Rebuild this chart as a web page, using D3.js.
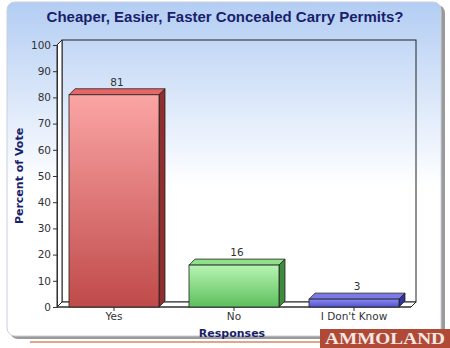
<!DOCTYPE html>
<html><head><meta charset="utf-8">
<script src="https://cdn.jsdelivr.net/npm/d3@7"></script>
<style>body{margin:0;background:#fff}svg{display:block}</style>
</head><body>
<svg id="c" width="450" height="348"></svg>
<script>
const title = "Cheaper, Easier, Faster Concealed Carry Permits?";
const categories = ["Yes", "No", "I Don't Know"];
const values = [81, 16, 3];
const yTicks = [0,10,20,30,40,50,60,70,80,90,100];
const xTitle = "Responses";
const yTitle = "Percent of Vote";

const colors = [
  {light:"#fba5a5", dark:"#c04a4a", top:"#e96666", side:"#8e2e2e"},
  {light:"#b8f4b4", dark:"#5cbf5c", top:"#8ee08a", side:"#3f8a3f"},
  {light:"#8a8af0", dark:"#5252d0", top:"#7a7ae8", side:"#33339a"}
];

const svg = d3.select("#c");
const defs = svg.append("defs");
const bg = defs.append("linearGradient").attr("id","bg").attr("x1",0).attr("y1",0).attr("x2",0).attr("y2",1);
bg.append("stop").attr("offset","0%").attr("stop-color","#b3cdf3");
bg.append("stop").attr("offset","55%").attr("stop-color","#ffffff");
bg.append("stop").attr("offset","100%").attr("stop-color","#ffffff");
colors.forEach((c,i)=>{
  const g = defs.append("linearGradient").attr("id","g"+i).attr("x1",0).attr("y1",0).attr("x2",0).attr("y2",1);
  g.append("stop").attr("offset","0%").attr("stop-color",c.light);
  g.append("stop").attr("offset","100%").attr("stop-color",c.dark);
});

// panel shadow + panel
svg.append("rect").attr("x",10).attr("y",5).attr("width",435).attr("height",334).attr("rx",8).attr("fill","#9a9a9a");
svg.append("rect").attr("x",7).attr("y",2).attr("width",434).attr("height",334).attr("rx",8)
  .attr("fill","url(#bg)").attr("stroke","#c8d0dc").attr("stroke-width",1);

svg.append("text").attr("x",225).attr("y",22).attr("text-anchor","middle")
  .attr("font-family","'Liberation Sans', Arial, sans-serif").attr("font-weight","bold").attr("font-size",15)
  .attr("fill","#1a1f6b").text(title);

const x0 = 57, x1 = 411, yTop = 45, yBot = 307, dx = 5, dy = 5;
const x = d3.scaleBand().domain(categories).range([x0, x1]).paddingInner(0.25).paddingOuter(0.1);
const y = d3.scaleLinear().domain([0,100]).range([yBot, yTop]);

// back wall
const wall = svg.append("g");
wall.append("rect").attr("x",x0+dx).attr("y",yTop-dy).attr("width",x1-x0).attr("height",yBot-yTop)
  .attr("fill","none").attr("stroke","#222").attr("stroke-width",1);
wall.append("path").attr("d",`M${x0},${yTop}L${x0+dx},${yTop-dy}L${x0+dx},${yBot-dy}L${x0},${yBot}Z`)
  .attr("fill","#fff").attr("stroke","#222").attr("stroke-width",1);
wall.append("path").attr("d",`M${x0},${yBot}L${x0+dx},${yBot-dy}L${x1+dx},${yBot-dy}L${x1},${yBot}Z`)
  .attr("fill","#fff").attr("stroke","#222").attr("stroke-width",1);

// y axis
const yAxis = d3.axisLeft(y).tickValues(yTicks).tickSize(4).tickPadding(2);
const ya = svg.append("g").attr("transform",`translate(${x0},0)`).call(yAxis);
ya.select(".domain").attr("stroke","#333");
ya.selectAll(".tick line").attr("stroke","#333");
ya.selectAll("text").attr("font-family","'DejaVu Sans', sans-serif").attr("font-size",10.5).attr("fill","#333");

// x axis
const xAxis = d3.axisBottom(x).tickSize(4).tickPadding(2);
const xa = svg.append("g").attr("transform",`translate(0,${yBot})`).call(xAxis);
xa.select(".domain").attr("stroke","#333").attr("d",`M${x0},0H${x1}`);
xa.selectAll(".tick line").attr("stroke","#333");
xa.selectAll("text").attr("font-family","'DejaVu Sans', sans-serif").attr("font-size",10.5).attr("fill","#333");

// bars
const bd = 6;
const bars = svg.append("g");
categories.forEach((cat,i)=>{
  const bx = x(cat), bw = x.bandwidth(), by = y(values[i]), c = colors[i];
  bars.append("path").attr("d",`M${bx},${by}L${bx+bd},${by-bd}L${bx+bw+bd},${by-bd}L${bx+bw},${by}Z`)
    .attr("fill",c.top).attr("stroke","#222").attr("stroke-width",0.8);
  bars.append("path").attr("d",`M${bx+bw},${by}L${bx+bw+bd},${by-bd}L${bx+bw+bd},${yBot-bd}L${bx+bw},${yBot}Z`)
    .attr("fill",c.side).attr("stroke","#222").attr("stroke-width",0.8);
  bars.append("rect").attr("x",bx).attr("y",by).attr("width",bw).attr("height",yBot-by)
    .attr("fill",`url(#g${i})`).attr("stroke","#222").attr("stroke-width",0.8);
  bars.append("text").attr("x",bx+bw/2+bd/2).attr("y",by-bd-3).attr("text-anchor","middle")
    .attr("font-family","'DejaVu Sans', sans-serif").attr("font-size",10.5).attr("fill","#333").text(values[i]);
});

// axis titles
svg.append("text").attr("x",232).attr("y",337).attr("text-anchor","middle")
  .attr("font-family","'DejaVu Sans', sans-serif").attr("font-weight","bold").attr("font-size",11)
  .attr("fill","#1a1f6b").text(xTitle);
svg.append("text").attr("transform","translate(23,176) rotate(-90)").attr("text-anchor","middle")
  .attr("font-family","'DejaVu Sans', sans-serif").attr("font-weight","bold").attr("font-size",11)
  .attr("fill","#1a1f6b").text(yTitle);

// bottom decoration
svg.append("line").attr("x1",30).attr("x2",322).attr("y1",342).attr("y2",342).attr("stroke","#e2a48a").attr("stroke-width",2);
svg.append("rect").attr("x",320).attr("y",329).attr("width",130).attr("height",19).attr("fill","#b04a36");
svg.append("text").attr("x",385).attr("y",344).attr("text-anchor","middle")
  .attr("font-family","'Liberation Serif', serif").attr("font-weight","bold").attr("font-size",16)
  .attr("textLength",120).attr("lengthAdjust","spacingAndGlyphs")
  .attr("fill","#f4e8e4").text("AMMOLAND");
</script>
</body></html>
